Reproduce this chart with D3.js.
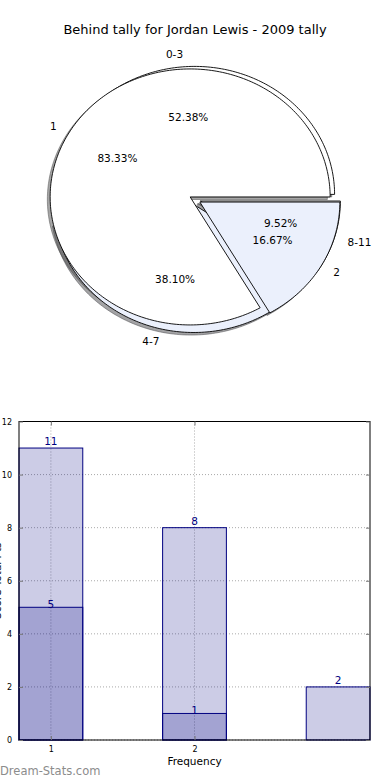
<!DOCTYPE html>
<html>
<head>
<meta charset="utf-8">
<script src="https://cdn.jsdelivr.net/npm/d3@7"></script>
<style>
  body { margin: 0; background: #fff; }
  svg { display: block; font-family: "DejaVu Sans", sans-serif; }
</style>
</head>
<body>
<svg id="chart" width="390" height="780"></svg>
<script>
// pie data
var tallyLabels = ['0-3', '4-7', '8-11'];
var tallyValues = [11, 8, 2];
var freqLabels = ['1', '2'];
var freqValues = [5, 1];

// bar data
var barCats = [1, 2, 3];
var barTotals = [11, 8, 2];
var barFreq = [5, 1];
var yTicks = [0, 2, 4, 6, 8, 10, 12];
var xTicks = [1, 2];

var sliceColors = ['#ffffff', '#ebf0fc'];

var svg = d3.select('#chart');

svg.append('text')
    .attr('x', 195).attr('y', 34)
    .attr('text-anchor', 'middle')
    .style('font-size', '13px')
    .text('Behind tally for Jordan Lewis - 2009 tally');

// ---- pie (ellipse, like a non-square matplotlib axes) ----
var cx = 195, cy = 199.5, rx = 140, ry = 128;
var explode = 0.04;

var pie = d3.pie().sort(null).startAngle(Math.PI / 2).endAngle(Math.PI / 2 - 2 * Math.PI);

function toTheta(a) { return Math.PI / 2 - a; }

function wedgePath(t0, t1, ox, oy) {
    var p = d3.path();
    var x0 = cx + ox, y0 = cy + oy;
    p.moveTo(x0, y0);
    var n = Math.max(8, Math.ceil((t1 - t0) / 0.02));
    for (var i = 0; i <= n; i++) {
        var t = t0 + (t1 - t0) * i / n;
        p.lineTo(x0 + rx * Math.cos(t), y0 - ry * Math.sin(t));
    }
    p.closePath();
    return p.toString();
}

function buildWedges(values, labels) {
    var total = d3.sum(values);
    return pie(values).map(function (d, i) {
        var t0 = toTheta(d.startAngle), t1 = toTheta(d.endAngle);
        var tm = (t0 + t1) / 2;
        return {
            t0: t0, t1: t1, tm: tm,
            ox: explode * rx * Math.cos(tm),
            oy: -explode * ry * Math.sin(tm),
            color: sliceColors[i % sliceColors.length],
            label: labels[i],
            pct: (values[i] / total * 100).toFixed(2) + '%'
        };
    });
}

var pies = [buildWedges(tallyValues, tallyLabels), buildWedges(freqValues, freqLabels)];

var pieG = svg.append('g');

function shade(c) {
    c = d3.rgb(c);
    return d3.rgb(c.r * 0.3, c.g * 0.3, c.b * 0.3).toString();
}

// shadows go under everything
pies.forEach(function (ws) {
    pieG.selectAll(null).data(ws).enter().append('path')
        .attr('d', function (w) { return wedgePath(w.t0, w.t1, w.ox - 0.02 * rx, w.oy + 0.02 * ry); })
        .attr('fill', function (w) { return shade(w.color); })
        .attr('fill-opacity', 0.5)
        .attr('stroke', function (w) { return shade(w.color); })
        .attr('stroke-opacity', 0.5)
        .attr('stroke-width', 1);
});

pies.forEach(function (ws) {
    pieG.selectAll(null).data(ws).enter().append('path')
        .attr('d', function (w) { return wedgePath(w.t0, w.t1, w.ox, w.oy); })
        .attr('fill', function (w) { return w.color; })
        .attr('stroke', '#000')
        .attr('stroke-width', 0.9);
});

pies.forEach(function (ws) {
    pieG.selectAll(null).data(ws).enter().append('text')
        .attr('x', function (w) { return cx + w.ox + 1.1 * rx * Math.cos(w.tm); })
        .attr('y', function (w) { return cy + w.oy - 1.1 * ry * Math.sin(w.tm); })
        .attr('dy', '0.35em')
        .attr('text-anchor', function (w) { return Math.cos(w.tm) > 0 ? 'start' : 'end'; })
        .style('font-size', '10.5px')
        .text(function (w) { return w.label; });
    pieG.selectAll(null).data(ws).enter().append('text')
        .attr('x', function (w) { return cx + w.ox + 0.6 * rx * Math.cos(w.tm); })
        .attr('y', function (w) { return cy + w.oy - 0.6 * ry * Math.sin(w.tm); })
        .attr('dy', '0.35em')
        .attr('text-anchor', 'middle')
        .style('font-size', '10.5px')
        .text(function (w) { return w.pct; });
});

// ---- bar chart ----
var plotL = 19, plotR = 370, plotT = 421.5, plotB = 740;
var barW = 0.444;

var x = d3.scaleLinear().domain([1 - barW / 2, 3 + barW / 2]).range([plotL, plotR]);
var y = d3.scaleLinear().domain([0, 12]).range([plotB, plotT]);

var g = svg.append('g');

// grid
g.selectAll(null).data(yTicks).enter().append('line')
    .attr('x1', plotL).attr('x2', plotR)
    .attr('y1', function (d) { return y(d); }).attr('y2', function (d) { return y(d); })
    .attr('stroke', '#aaa').attr('stroke-width', 1).attr('stroke-dasharray', '1,2');
g.selectAll(null).data(xTicks).enter().append('line')
    .attr('x1', function (d) { return x(d); }).attr('x2', function (d) { return x(d); })
    .attr('y1', plotT).attr('y2', plotB)
    .attr('stroke', '#aaa').attr('stroke-width', 1).attr('stroke-dasharray', '1,2');

var totals = barCats.map(function (c, i) { return { c: c, v: barTotals[i] }; });
var freqs = barFreq.map(function (v, i) { return { c: barCats[i], v: v }; });

[totals, freqs].forEach(function (series) {
    g.selectAll(null).data(series).enter().append('rect')
        .attr('x', function (d) { return x(d.c - barW / 2); })
        .attr('width', function (d) { return x(d.c + barW / 2) - x(d.c - barW / 2); })
        .attr('y', function (d) { return y(d.v); })
        .attr('height', function (d) { return plotB - y(d.v); })
        .attr('fill', 'navy').attr('fill-opacity', 0.2)
        .attr('stroke', 'navy').attr('stroke-width', 1);
});

g.selectAll(null).data(totals).enter().append('text')
    .attr('x', function (d) { return x(d.c); })
    .attr('y', function (d) { return y(d.v) - 3; })
    .attr('text-anchor', 'middle')
    .attr('fill', 'navy')
    .style('font-size', '10.5px')
    .text(function (d) { return d.v; });
g.selectAll(null).data(freqs).enter().append('text')
    .attr('x', function (d) { return x(d.c); })
    .attr('y', function (d) { return y(d.v) + 1; })
    .attr('text-anchor', 'middle')
    .attr('fill', 'navy')
    .style('font-size', '10.5px')
    .text(function (d) { return d.v; });

// frame
g.append('rect')
    .attr('x', plotL).attr('y', plotT)
    .attr('width', plotR - plotL).attr('height', plotB - plotT)
    .attr('fill', 'none').attr('stroke', '#000').attr('stroke-width', 1);

// axes with inward ticks
var yAxis = g.append('g').attr('transform', 'translate(' + plotL + ',0)')
    .call(d3.axisLeft(y).tickValues(yTicks).tickSize(-4).tickPadding(7).tickFormat(d3.format('d')));
var yAxisR = g.append('g').attr('transform', 'translate(' + plotR + ',0)')
    .call(d3.axisRight(y).tickValues(yTicks).tickSize(-4).tickFormat(''));
var xAxis = g.append('g').attr('transform', 'translate(0,' + plotB + ')')
    .call(d3.axisBottom(x).tickValues(xTicks).tickSize(-4).tickPadding(6).tickFormat(d3.format('d')));
var xAxisT = g.append('g').attr('transform', 'translate(0,' + plotT + ')')
    .call(d3.axisTop(x).tickValues(xTicks).tickSize(-4).tickFormat(''));

[yAxis, yAxisR, xAxis, xAxisT].forEach(function (a) {
    a.select('.domain').remove();
    a.selectAll('line').attr('stroke', '#777');
    a.selectAll('text').style('font-size', '8px').style('font-family', '"DejaVu Sans", sans-serif').attr('fill', '#000');
});

svg.append('text')
    .attr('x', (plotL + plotR) / 2).attr('y', 765)
    .attr('text-anchor', 'middle')
    .style('font-size', '10.5px')
    .text('Frequency');

svg.append('text')
    .attr('transform', 'translate(1,' + (plotB + plotT) / 2 + ') rotate(-90)')
    .attr('text-anchor', 'middle')
    .style('font-size', '10.5px')
    .text('Score Total Pts');

svg.append('text')
    .attr('x', 0).attr('y', 775)
    .style('font-size', '11.5px')
    .attr('fill', '#8c8c8c')
    .text('Dream-Stats.com');
</script>
</body>
</html>
